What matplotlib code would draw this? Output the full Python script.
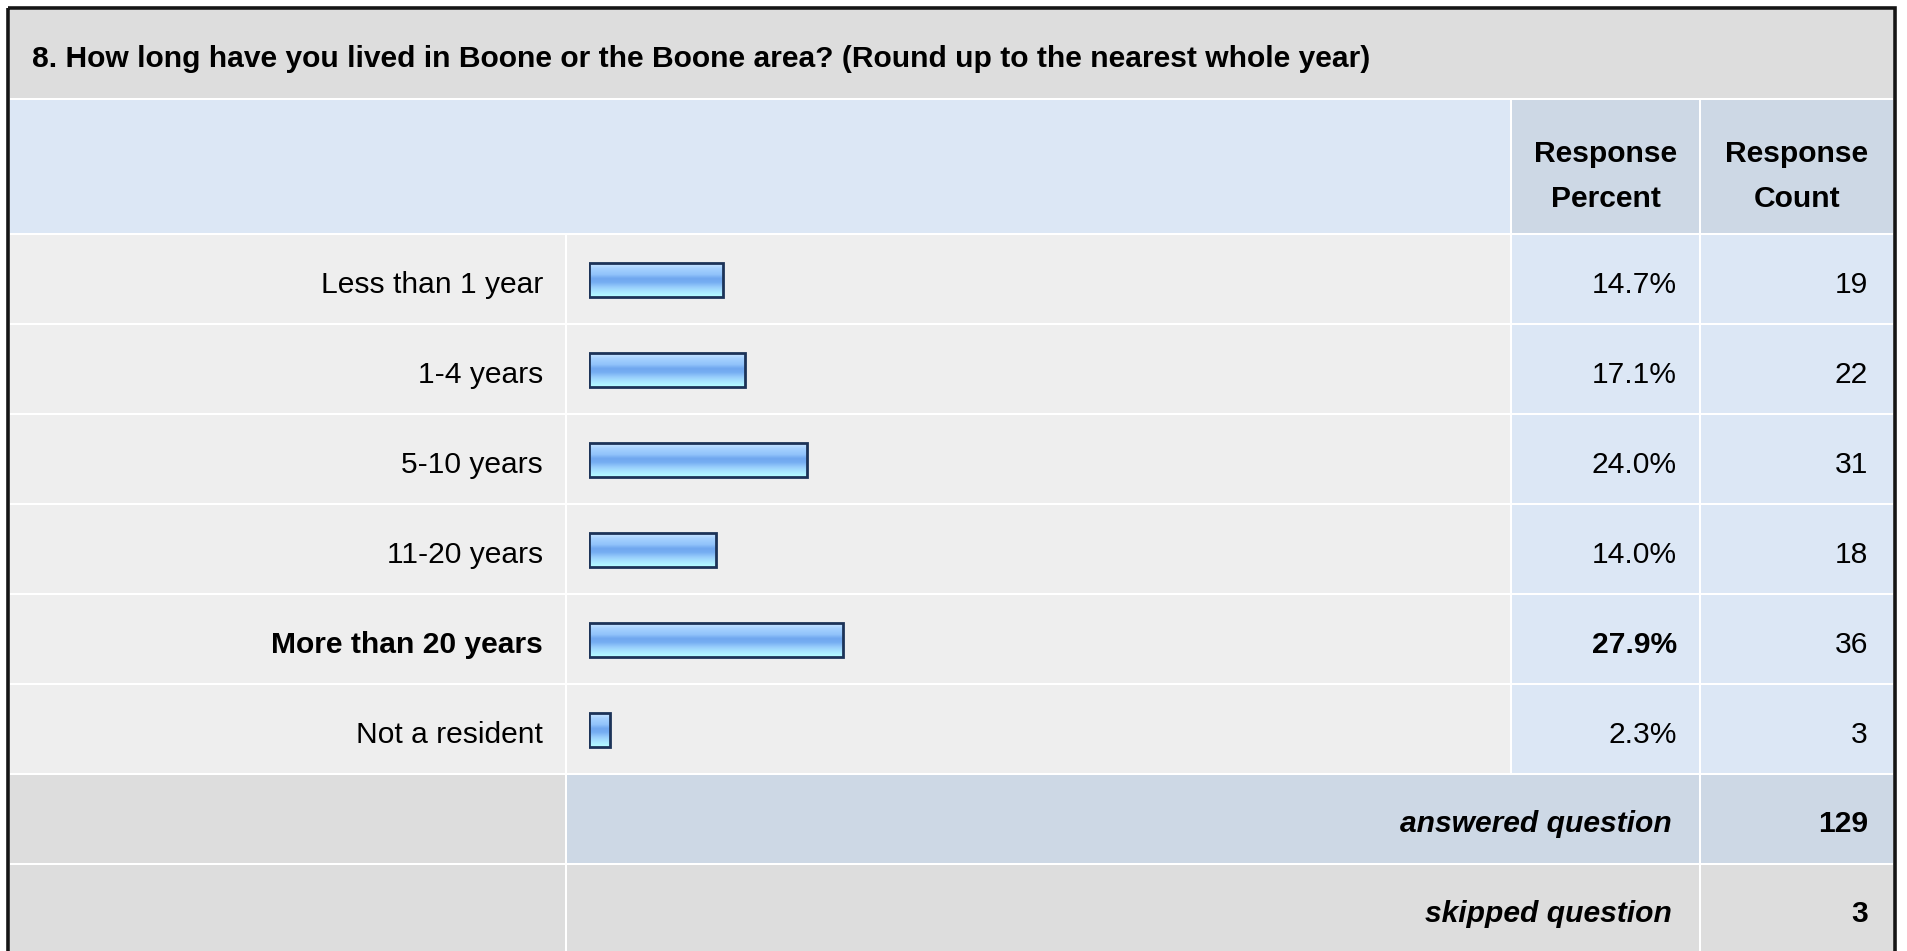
import numpy as np
import matplotlib
matplotlib.use("Agg")
import matplotlib.pyplot as plt
from matplotlib.patches import Rectangle
from matplotlib.colors import LinearSegmentedColormap

title = "8. How long have you lived in Boone or the Boone area? (Round up to the nearest whole year)"
categories = ["Less than 1 year", "1-4 years", "5-10 years", "11-20 years",
              "More than 20 years", "Not a resident"]
percents = [14.7, 17.1, 24.0, 14.0, 27.9, 2.3]
counts = [19, 22, 31, 18, 36, 3]
answered = 129
skipped = 3

W, H = 1907, 951
plt.rcParams["font.family"] = ["Liberation Sans", "DejaVu Sans"]
FS = 21.6  # ~30 px at dpi 100

fig = plt.figure(figsize=(W / 100, H / 100), dpi=100)
ax = fig.add_axes([0, 0, 1, 1])
ax.set_xlim(0, W)
ax.set_ylim(H, 0)
ax.axis("off")


def cell(x0, x1, y0, y1, color):
    ax.add_patch(Rectangle((x0, y0), x1 - x0, y1 - y0, facecolor=color,
                           edgecolor="none", zorder=1))


# column / row layout (pixels)
col_label = (10, 565)
col_bar = (567, 1510)
col_pct = (1512, 1699)
col_cnt = (1701, 1893)
row_h = 90
data_top = 235

# title row
cell(10, 1893, 10, 98, "#DDDDDD")
ax.text(32, 67, title, fontsize=FS, fontweight="bold", ha="left", va="baseline", zorder=3)

# header row
cell(10, 1510, 100, 233, "#DCE7F5")
cell(*col_pct, 100, 233, "#CDD8E5")
cell(*col_cnt, 100, 233, "#CDD8E5")
for col, words in [(col_pct, ("Response", "Percent")), (col_cnt, ("Response", "Count"))]:
    cx = (col[0] + col[1]) / 2
    ax.text(cx, 162, words[0], fontsize=FS, fontweight="bold", ha="center", va="baseline", zorder=3)
    ax.text(cx, 207, words[1], fontsize=FS, fontweight="bold", ha="center", va="baseline", zorder=3)

# data rows
best = int(np.argmax(percents))
for i, (cat, p, c) in enumerate(zip(categories, percents, counts)):
    y0 = data_top + i * row_h
    y1 = y0 + row_h - 2
    cell(*col_label, y0, y1, "#EEEEEE")
    cell(*col_bar, y0, y1, "#EEEEEE")
    cell(*col_pct, y0, y1, "#DCE7F5")
    cell(*col_cnt, y0, y1, "#DCE7F5")
    wt = "bold" if i == best else "normal"
    ax.text(543, y0 + 58, cat, fontsize=FS, fontweight=wt, ha="right", va="baseline", zorder=3)
    ax.text(1677, y0 + 58, f"{p:.1f}%", fontsize=FS, fontweight=wt, ha="right", va="baseline", zorder=3)
    ax.text(1868, y0 + 58, str(c), fontsize=FS, ha="right", va="baseline", zorder=3)

# summary rows
n = len(categories)
y_ans = data_top + n * row_h
cell(*col_label, y_ans, y_ans + 88, "#DDDDDD")
cell(col_bar[0], col_pct[1], y_ans, y_ans + 88, "#CDD8E5")
cell(*col_cnt, y_ans, y_ans + 88, "#CDD8E5")
ax.text(1672, y_ans + 57, "answered question", fontsize=FS, fontweight="bold", style="italic",
        ha="right", va="baseline", zorder=3)
ax.text(1868, y_ans + 57, str(answered), fontsize=FS, fontweight="bold", ha="right", va="baseline", zorder=3)

y_sk = y_ans + row_h
cell(*col_label, y_sk, y_sk + 88, "#DDDDDD")
cell(col_bar[0], col_pct[1], y_sk, y_sk + 88, "#DDDDDD")
cell(*col_cnt, y_sk, y_sk + 88, "#DDDDDD")
ax.text(1672, y_sk + 57, "skipped question", fontsize=FS, fontweight="bold", style="italic",
        ha="right", va="baseline", zorder=3)
ax.text(1868, y_sk + 57, str(skipped), fontsize=FS, fontweight="bold", ha="right", va="baseline", zorder=3)

# outer frame
ax.add_patch(Rectangle((7.7, 7.7), 1887.6, 980, facecolor="none", edgecolor="#151515",
                       linewidth=2.6, zorder=4))

# bar chart axes over the bar column
px_per_pct = 9.1
bar_left = 589
bax = fig.add_axes([bar_left / W, (H - (data_top + n * row_h)) / H,
                    100 * px_per_pct / W, n * row_h / H])
bax.patch.set_alpha(0)
bax.axis("off")

grad = LinearSegmentedColormap.from_list("bar", [
    (0.0, "#CDE7FF"), (0.15, "#A6D1FF"), (0.33, "#92C4FB"), (0.45, "#70A7EF"),
    (0.57, "#76AEF2"), (0.72, "#99CFFC"), (0.85, "#A9E7FF"), (1.0, "#B6FFFF")])
bh = 0.37
for i, p in enumerate(percents):
    g = np.linspace(0, 1, 64).reshape(-1, 1)
    bax.imshow(g, cmap=grad, aspect="auto", interpolation="bilinear",
               extent=(0, p, i + bh / 2, i - bh / 2), zorder=1)
bax.barh(range(n), percents, height=bh, left=0, facecolor="none",
         edgecolor="#1C3358", linewidth=2.0, zorder=2)
bax.set_xlim(0, 100)
bax.set_ylim(n - 0.5, -0.5)

fig.savefig("out.png", dpi=100, facecolor="white")
